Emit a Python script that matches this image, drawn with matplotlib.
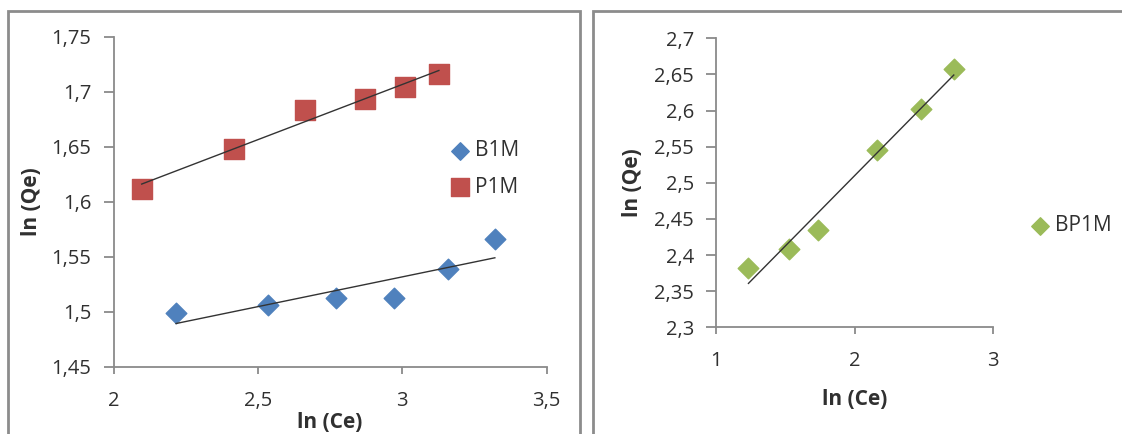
import numpy as np
import matplotlib
matplotlib.use("Agg")
import matplotlib.pyplot as plt
from matplotlib.patches import Rectangle
from matplotlib.ticker import FuncFormatter, MultipleLocator

plt.rcParams['font.family'] = ['Open Sans', 'DejaVu Sans']

# left panel: B1M and P1M
b1m_x = [2.216, 2.534, 2.770, 2.972, 3.160, 3.321]
b1m_y = [1.499, 1.506, 1.513, 1.513, 1.539, 1.566]
p1m_x = [2.097, 2.418, 2.663, 2.872, 3.008, 3.127]
p1m_y = [1.612, 1.648, 1.684, 1.694, 1.705, 1.716]

# right panel: BP1M
bp1m_x = [1.233, 1.527, 1.735, 2.159, 2.478, 2.716]
bp1m_y = [2.382, 2.409, 2.435, 2.545, 2.602, 2.657]

blue = '#4F81BD'
red = '#C0504D'
green = '#9BBB59'
axis_gray = '#8a8a8a'
text_col = '#303030'

W, H = 1122, 434

comma = FuncFormatter(lambda v, pos: ('%g' % round(v, 4)).replace('.', ','))


def style_axes(ax):
    for s in ['top', 'right']:
        ax.spines[s].set_visible(False)
    for s in ['left', 'bottom']:
        ax.spines[s].set_color(axis_gray)
        ax.spines[s].set_linewidth(1.3)
    ax.tick_params(axis='y', direction='out', length=7, width=1.3, color=axis_gray,
                   labelsize=14.5, labelcolor=text_col, pad=9)
    ax.tick_params(axis='x', direction='out', length=5, width=1.3, color=axis_gray,
                   labelsize=14.5, labelcolor=text_col, pad=12)
    ax.xaxis.set_major_formatter(comma)
    ax.yaxis.set_major_formatter(comma)


def trendline(ax, x, y):
    x = np.array(x)
    k, b = np.polyfit(x, y, 1)
    xs = np.array([x.min(), x.max()])
    ax.plot(xs, k * xs + b, color='#333333', lw=1.0, zorder=3)


fig = plt.figure(figsize=(W / 100, H / 100), dpi=100)

# panel frames
fig.add_artist(Rectangle((8 / W, -0.05), (580 - 8) / W, 1.05 - 11 / H,
                         transform=fig.transFigure, fill=False,
                         edgecolor='#8c8c8c', lw=2))
fig.add_artist(Rectangle((593 / W, -0.05), 0.5, 1.05 - 11 / H,
                         transform=fig.transFigure, fill=False,
                         edgecolor='#8c8c8c', lw=2))

ax1 = fig.add_axes([113.7 / W, 1 - 367 / H, 432.8 / W, 330 / H])
ax1.scatter(b1m_x, b1m_y, marker='D', s=110, color=blue, label='B1M', zorder=2)
ax1.scatter(p1m_x, p1m_y, marker='s', s=210, color=red, label='P1M', zorder=2)
trendline(ax1, b1m_x, b1m_y)
trendline(ax1, p1m_x, p1m_y)
ax1.set_xlim(2, 3.5)
ax1.set_ylim(1.45, 1.75)
ax1.xaxis.set_major_locator(MultipleLocator(0.5))
ax1.yaxis.set_major_locator(MultipleLocator(0.05))
style_axes(ax1)
ax1.set_xlabel('ln (Ce)', fontsize=15, fontweight='bold', color=text_col)
ax1.set_ylabel('ln (Qe)', fontsize=15, fontweight='bold', color=text_col)
ax1.xaxis.set_label_coords(0.5, -0.135)
ax1.yaxis.set_label_coords(-0.166, 0.5)
ax1.legend(loc='center left', bbox_to_anchor=(452 / W, 1 - 169 / H),
           bbox_transform=fig.transFigure, frameon=False, fontsize=15,
           labelcolor=text_col, handlelength=0.8, handletextpad=0.3,
           labelspacing=0.75, markerscale=0.85, borderpad=0, borderaxespad=0)

ax2 = fig.add_axes([716.2 / W, 1 - 327.3 / H, 276.9 / W, 289 / H])
ax2.scatter(bp1m_x, bp1m_y, marker='D', s=110, color=green, label='BP1M', zorder=2)
trendline(ax2, bp1m_x, bp1m_y)
ax2.set_xlim(1, 3)
ax2.set_ylim(2.3, 2.7)
ax2.xaxis.set_major_locator(MultipleLocator(1))
ax2.yaxis.set_major_locator(MultipleLocator(0.05))
style_axes(ax2)
ax2.set_xlabel('ln (Ce)', fontsize=15, fontweight='bold', color=text_col)
ax2.set_ylabel('ln (Qe)', fontsize=15, fontweight='bold', color=text_col)
ax2.xaxis.set_label_coords(0.5, -0.212)
ax2.yaxis.set_label_coords(-0.266, 0.5)
ax2.legend(loc='center left', bbox_to_anchor=(1032 / W, 1 - 226 / H),
           bbox_transform=fig.transFigure, frameon=False, fontsize=15,
           labelcolor=text_col, handlelength=0.8, handletextpad=0.3,
           markerscale=0.85, borderpad=0, borderaxespad=0)

fig.savefig('out.png', dpi=100)
